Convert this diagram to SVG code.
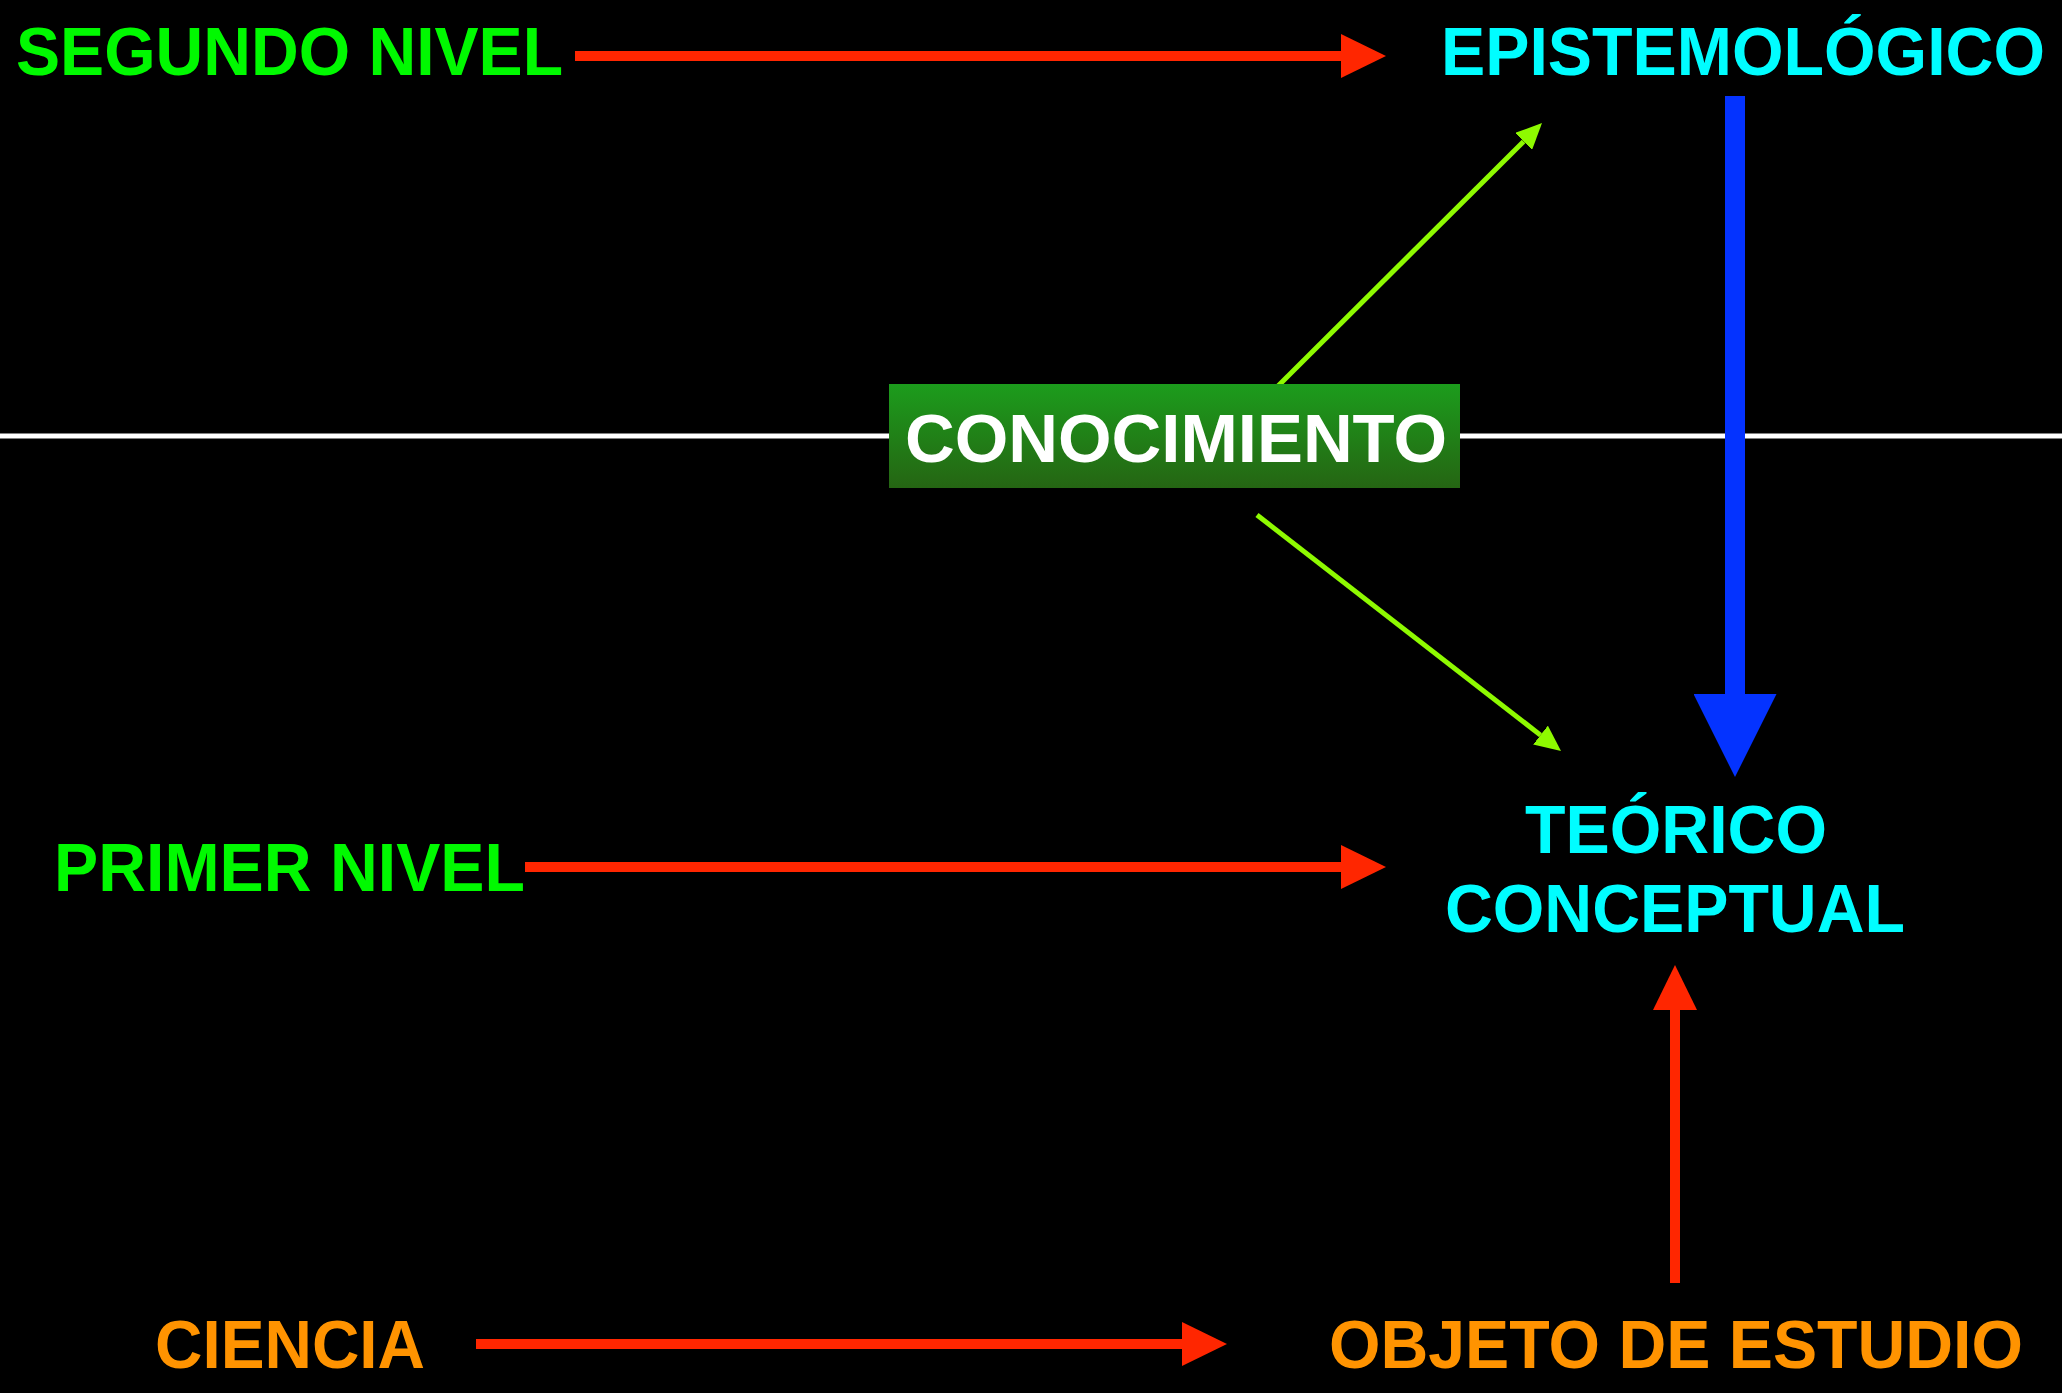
<svg xmlns="http://www.w3.org/2000/svg" width="2062" height="1393" viewBox="0 0 2062 1393">
<defs>
<style>
.t{font-family:"Liberation Sans",Arial,Helvetica,sans-serif;font-weight:bold;font-size:68px;}
.lime{fill:#00F900;}
.cyan{fill:#00FDFF;}
.orange{fill:#FF9300;}
.white{fill:#FFFFFF;}
.red{stroke:#FF2600;stroke-width:10;fill:none;}
.blue{stroke:#0433FF;stroke-width:20;fill:none;}
.grn{stroke:#8EFA00;stroke-width:5;fill:none;}
</style>
<linearGradient id="boxg" x1="0" y1="0" x2="0" y2="1">
<stop offset="0" stop-color="#1C9C1C"/>
<stop offset="1" stop-color="#256513"/>
</linearGradient>
<marker id="mRed" markerUnits="userSpaceOnUse" markerWidth="45" markerHeight="44" refX="0" refY="22" orient="auto" viewBox="0 0 45 44">
<path d="M0,0 L45,22 L0,44 z" fill="#FF2600"/>
</marker>
<marker id="mBlue" markerUnits="userSpaceOnUse" markerWidth="83" markerHeight="83" refX="0" refY="41.5" orient="auto" viewBox="0 0 83 83">
<path d="M0,0 L83,41.5 L0,83 z" fill="#0433FF"/>
</marker>
<marker id="mGrn" markerUnits="userSpaceOnUse" markerWidth="26" markerHeight="24" refX="0" refY="12" orient="auto" viewBox="0 0 26 24">
<path d="M0,0 L26,12 L0,24 z" fill="#8EFA00"/>
</marker>
</defs>
<rect x="0" y="0" width="2062" height="1393" fill="#000000"/>
<line x1="0" y1="436" x2="2062" y2="436" stroke="#FFFFFF" stroke-width="5"/>
<g id="connectors">
<line class="red" x1="575" y1="56" x2="1341" y2="56" marker-end="url(#mRed)"/>
<line class="red" x1="525" y1="867" x2="1341" y2="867" marker-end="url(#mRed)"/>
<line class="red" x1="476" y1="1344" x2="1182" y2="1344" marker-end="url(#mRed)"/>
<line class="red" x1="1675" y1="1283" x2="1675" y2="1010" marker-end="url(#mRed)"/>
<line class="blue" x1="1735" y1="96" x2="1735" y2="694" marker-end="url(#mBlue)"/>
<line class="grn" x1="1276" y1="388" x2="1523.6" y2="141.4" marker-end="url(#mGrn)"/>
<line class="grn" x1="1257" y1="515" x2="1540.5" y2="735.1" marker-end="url(#mGrn)"/>
</g>
<g id="segundo-nivel"><text class="t lime" x="16" y="75" textLength="547" lengthAdjust="spacingAndGlyphs">SEGUNDO NIVEL</text></g>
<g id="epistemologico"><text class="t cyan" x="1441" y="75" textLength="604" lengthAdjust="spacingAndGlyphs">EPISTEMOLÓGICO</text></g>
<g id="conocimiento">
<rect x="889" y="384" width="571" height="104" fill="url(#boxg)"/>
<text class="t white" x="905" y="462" font-size="70" textLength="542" lengthAdjust="spacingAndGlyphs">CONOCIMIENTO</text>
</g>
<g id="teorico-conceptual">
<text class="t cyan" x="1525" y="853" textLength="302" lengthAdjust="spacingAndGlyphs">TEÓRICO</text>
<text class="t cyan" x="1445" y="932" textLength="460" lengthAdjust="spacingAndGlyphs">CONCEPTUAL</text>
</g>
<g id="primer-nivel"><text class="t lime" x="54" y="891" textLength="471" lengthAdjust="spacingAndGlyphs">PRIMER NIVEL</text></g>
<g id="ciencia"><text class="t orange" x="155" y="1368" textLength="270" lengthAdjust="spacingAndGlyphs">CIENCIA</text></g>
<g id="objeto-de-estudio"><text class="t orange" x="1329" y="1368" textLength="694" lengthAdjust="spacingAndGlyphs">OBJETO DE ESTUDIO</text></g>
</svg>
